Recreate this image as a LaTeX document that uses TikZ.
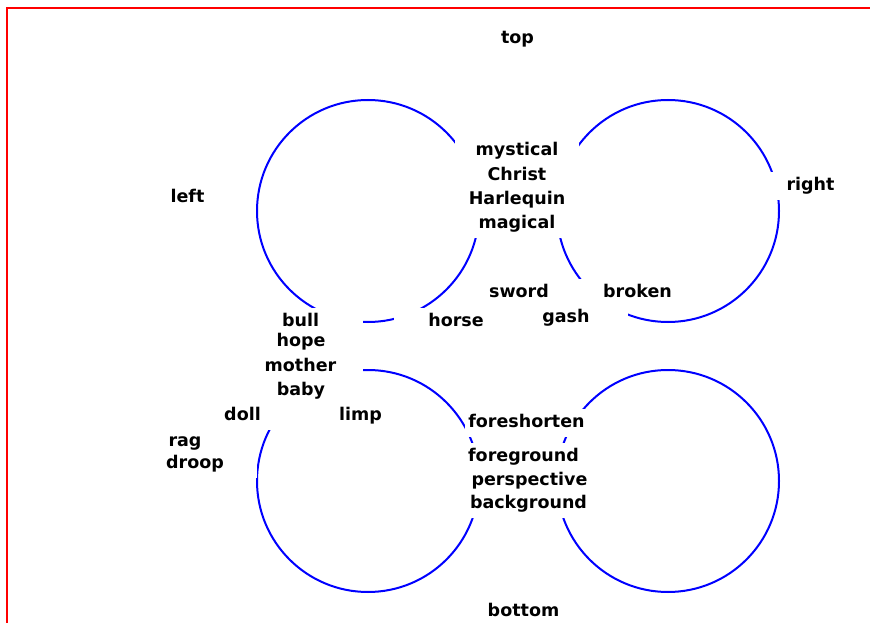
\documentclass[tikz,border=0pt]{standalone}
\usepackage{fontspec}
\setsansfont{DejaVu Sans}
\usepackage{tikz}

\begin{document}
\begin{tikzpicture}[
  x=1pt, y=-1pt,
  ring/.style={draw=blue,line width=2pt,circle,minimum size=222pt,inner sep=0pt},
  lbl/.style={fill=white,anchor=base,inner sep=0pt,minimum width=124pt,minimum height=28pt,
    text height=13pt,text depth=4pt,font=\sffamily\bfseries\fontsize{17.5}{21}\selectfont}
]
\useasboundingbox (0,0) rectangle (870,623);
\draw[red,line width=2pt] (7,8.5) rectangle (900,660);
% four rings
\node[ring] (ringTL) at (368,211) {};
\node[ring] (ringTR) at (668,211) {};
\node[ring] (ringBL) at (368,481) {};
\node[ring] (ringBR) at (668,481) {};
% sides
\node[lbl] (top) at (517.5,44) {top};
\node[lbl] (left) at (187.5,202.7) {left};
\node[lbl] (right) at (810.5,190.7) {right};
\node[lbl] (bottom) at (523.5,616.7) {bottom};
% upper middle
\node[lbl] (mystical) at (517,156) {mystical};
\node[lbl] (christ) at (517,180) {Christ};
\node[lbl] (harlequin) at (517,204) {Harlequin};
\node[lbl] (magical) at (517,228) {magical};
\node[lbl] (sword) at (519,297) {sword};
\node[lbl] (broken) at (637.5,297) {broken};
\node[lbl] (gash) at (566,322) {gash};
\node[lbl] (horse) at (456,326.7) {horse};
% left column
\node[lbl] (bull) at (300.5,326.7) {bull};
\node[lbl] (hope) at (301,346.7) {hope};
\node[lbl] (mother) at (300.5,371) {mother};
\node[lbl] (baby) at (301,395) {baby};
\node[lbl] (doll) at (242.5,420.7) {doll};
\node[lbl] (limp) at (360.5,420.7) {limp};
\node[lbl] (rag) at (185,446) {rag};
\node[lbl] (droop) at (195,468) {droop};
% lower middle
\node[lbl] (foreshorten) at (526.5,427.3) {foreshorten};
\node[lbl] (foreground) at (523.5,461) {foreground};
\node[lbl] (perspective) at (529.5,485) {perspective};
\node[lbl] (background) at (528.5,508.3) {background};
\end{tikzpicture}
\end{document}
